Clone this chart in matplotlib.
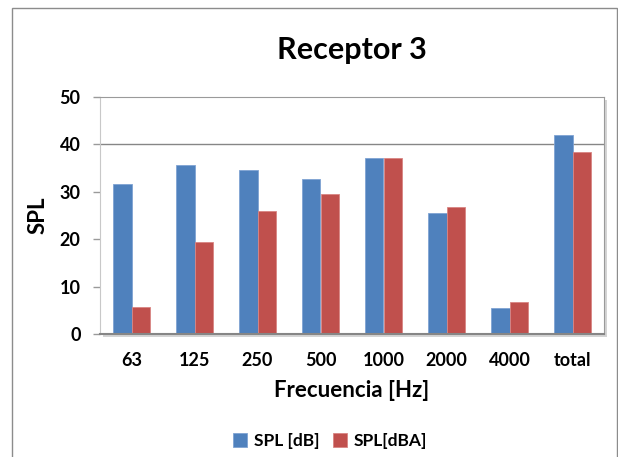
import matplotlib.pyplot as plt
import numpy as np
from matplotlib.patches import Rectangle

categories = ["63", "125", "250", "500", "1000", "2000", "4000", "total"]
spl_db = [31.6, 35.7, 34.6, 32.7, 37.1, 25.6, 5.4, 41.9]
spl_dba = [5.6, 19.5, 25.9, 29.5, 37.1, 26.8, 6.8, 38.5]

plt.rcParams['font.family'] = ['Lato', 'DejaVu Sans']

W, H = 618, 457
fig = plt.figure(figsize=(W / 100, H / 100), dpi=100)
# outer chart frame (runs off the right and bottom of the picture)
fig.patches.append(Rectangle((12/W, -0.05), 605/W, 1 - 8/H + 0.05,
                             transform=fig.transFigure, fill=False,
                             edgecolor='#8c8c8c', linewidth=1.0))
# soft shadow behind plot area
left, top, right, bottom = 100, 97, 604, 334
fig.patches.append(Rectangle(((left + 3)/W, 1 - (bottom + 3)/H),
                             (right - left)/W, (bottom - top)/H,
                             transform=fig.transFigure, facecolor='#d4d4d4',
                             edgecolor='none', zorder=-1))

ax = fig.add_axes([left/W, 1 - bottom/H, (right - left)/W, (bottom - top)/H])
x = np.arange(len(categories))
w = 0.295
ax.bar(x - w/2, spl_db, w, color='#4F81BD', label='SPL [dB]',
       edgecolor='#7FA3D3', linewidth=0.6)
ax.bar(x + w/2, spl_dba, w, color='#C0504D', label='SPL[dBA]',
       edgecolor='#D98583', linewidth=0.6)

ax.set_xlim(-0.5, len(categories) - 0.5)
ax.set_ylim(0, 50)
ax.set_yticks(range(0, 51, 10))
ax.set_xticks(x)
ax.set_xticklabels(categories, fontweight='bold', fontsize=13)
for lbl in ax.get_yticklabels():
    lbl.set_fontweight('bold')
    lbl.set_fontsize(13)
ax.tick_params(axis='x', length=0, pad=13)
ax.tick_params(axis='y', length=5, width=1, color='#9a9a9a', pad=9)
ax.axhline(40, color='#868686', linewidth=1.0, zorder=0)

for s in ['top', 'right']:
    ax.spines[s].set_color('#9a9a9a')
ax.spines['left'].set_color('#c8c8c8')
ax.spines['bottom'].set_color('#868686')
ax.spines['bottom'].set_linewidth(1.5)

ax.set_title('Receptor 3', fontsize=22, fontweight='bold', pad=27)
ax.set_xlabel('Frecuencia [Hz]', fontsize=16, fontweight='bold', labelpad=8)
ax.set_ylabel('SPL', fontsize=16, fontweight='bold', labelpad=8)

fig.legend(loc='center', bbox_to_anchor=(330/W, 1 - 441/H), ncol=2,
           frameon=False, prop={'weight': 'bold', 'size': 12.5},
           handlelength=0.8, handleheight=0.8, columnspacing=0.8,
           handletextpad=0.4)

fig.savefig('out.png', dpi=100)
